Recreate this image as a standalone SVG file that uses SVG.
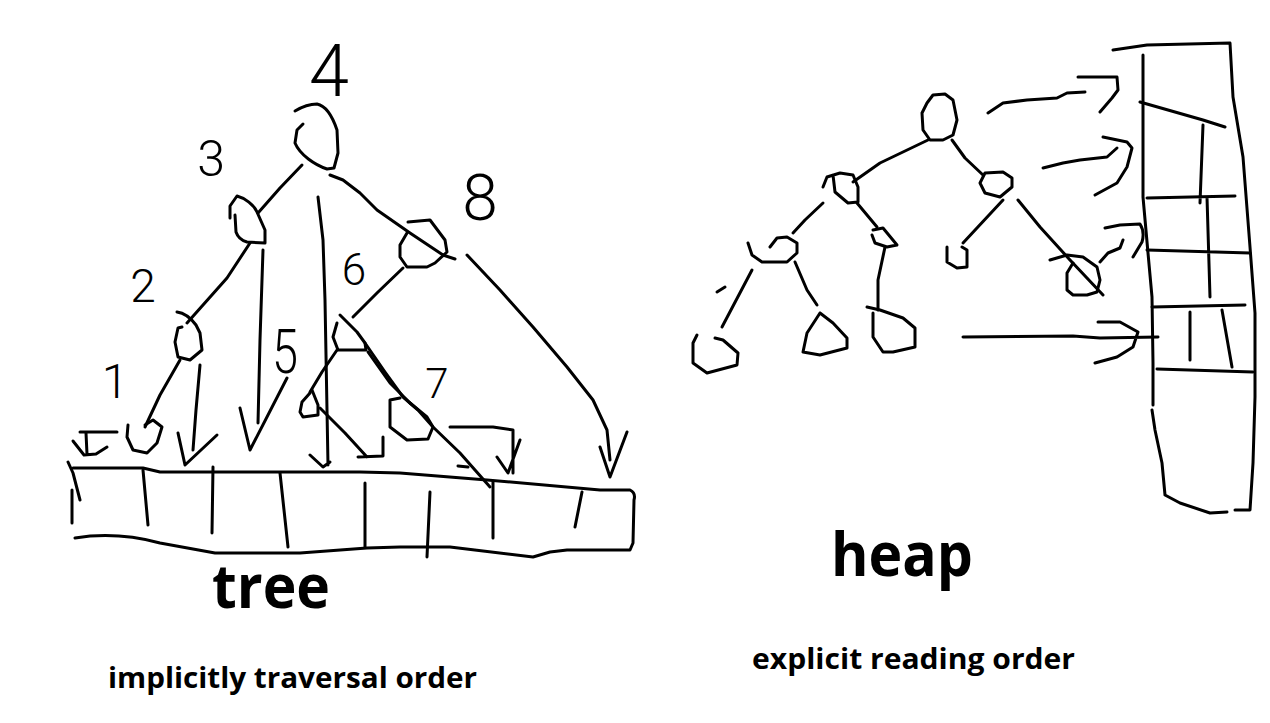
<svg xmlns="http://www.w3.org/2000/svg" width="1270" height="723" viewBox="0 0 1270 723">
<style>
.s{fill:none;stroke:#000;stroke-width:3;stroke-linecap:round;stroke-linejoin:round}
.d{font-family:Roboto,"Liberation Sans",sans-serif;font-weight:300;fill:#000;text-anchor:middle}
.t{font-family:"Open Sans","Noto Sans",sans-serif;font-weight:700;fill:#000}
</style>
<rect width="1270" height="723" fill="#fff"/>
<!-- left tree nodes -->
<g id="t-n4"><path class="s" d="M303,124 L297,130 L295,143 C300,155 315,165 327,169 L334,168 L338,153 L337,130 C333,118 327,106 317,104 C307,104 300,108 295,111"/><text class="d" x="329" y="96" font-size="72">4</text></g>
<g id="t-n3"><path class="s" d="M230,218 L230,206 L237,196 C245,198 254,205 257,212 L265,230 L265,243 L247,242 C240,240 237,235 236,232 L235,215"/><text class="d" x="211" y="176" font-size="50">3</text></g>
<g id="t-n8"><path class="s" d="M408,222 L430,220 L445,240 L447,252 L435,263 L427,267 L407,267 L400,257 L400,245 L407,233"/><text class="d" x="480" y="220" font-size="64">8</text></g>
<g id="t-n2"><path class="s" d="M177,312 C185,313 190,317 196,325 L200,333 L202,350 L190,360 L178,357 L175,342 L178,328 L182,327"/><text class="d" x="143" y="302" font-size="46">2</text></g>
<g id="t-n6"><path class="s" d="M340,315 L357,332 L365,343 L366,350 L338,350 L333,337 L337,323"/><text class="d" x="354" y="285" font-size="44">6</text></g>
<g id="t-n5"><path class="s" d="M312,390 L318,405 L318,415 L303,417 L300,412 L302,402 L310,393"/><text class="d" x="285" y="373" font-size="62" textLength="26" lengthAdjust="spacingAndGlyphs">5</text></g>
<g id="t-n7"><path class="s" d="M400,398 L390,400 L390,427 L407,440 L428,439 L433,427 L427,417 L410,403"/><text class="d" x="437" y="398" font-size="42">7</text></g>
<g id="t-n1"><path class="s" d="M128,425 L127,437 L133,450 L147,453 L157,443 L162,427 L153,420 L145,425"/><text class="d" x="115" y="398" font-size="48">1</text></g>
<!-- left array -->
<g id="t-array">
<path class="s" d="M73,468 L143,468 L160,472 L360,472 L400,473 L487,480 L600,490 L630,490 Q636,493 634,500 L633,543 L630,550 L567,550 L550,552 L533,557 L450,547 L400,547 L367,548 L300,553 L215,553 L160,543 C130,535 100,534 75,538"/>
<path class="s" d="M68,462 L73,473 L80,500 M72,490 L72,523 M143,470 L148,525 M213,467 L212,533 M280,473 L288,547 M365,483 L365,547 M430,492 L427,557 M493,482 L493,538 M582,492 L575,527"/>
</g>
<!-- right heap tree nodes -->
<g id="h-root"><path class="s" d="M927,103 L933,95 L945,94 L953,100 L957,120 L953,135 L943,140 L930,140 L923,130 L922,113 L927,103"/></g>
<g id="h-l"><path class="s" d="M823,187 L827,177 L840,173 L853,175 L858,187 L858,202 L848,203 L835,192 L833,175"/></g>
<g id="h-r"><path class="s" d="M980,183 L985,173 L1003,172 L1012,178 L1012,187 L1000,197 L985,193 L980,183"/></g>
<g id="h-ll"><path class="s" d="M748,243 L752,255 L762,262 L787,262 L797,253 L797,243 L787,237 L777,238 L770,247"/></g>
<g id="h-lr"><path class="s" d="M873,230 L883,228 L897,245 L887,247 L875,243 L872,235"/></g>
<g id="h-rl"><path class="s" d="M962,247 L967,250 L967,267 L957,268 L947,262 L947,247"/></g>
<g id="h-rr"><path class="s" d="M1050,260 L1067,255 L1083,257 L1097,267 L1100,280 L1097,292 L1087,295 L1073,295 L1067,290 L1067,273 L1073,263"/></g>
<g id="h-lll"><path class="s" d="M697,335 L693,343 L693,363 L707,373 L737,365 L738,353 L723,340 L715,338"/></g>
<g id="h-llr"><path class="s" d="M820,313 L807,333 L803,352 L820,355 L847,348 L847,338 L833,323 L820,313"/></g>
<g id="h-lrl"><path class="s" d="M867,307 L880,310 L903,318 L915,328 L915,347 L893,352 L883,352 L873,337 L873,313"/></g>
<!-- heap column -->
<g id="h-array">
<path class="s" d="M1113,50 L1147,45 L1230,43 L1233,97 L1243,157 L1250,247 L1255,313 L1255,397 L1253,463 L1250,510 L1235,510"/>
<path class="s" d="M1143,55 L1143,197 L1148,253 L1152,297 L1153,363 L1153,405 M1152,410 L1155,430 L1162,463 L1165,495 L1180,503 L1210,513 L1227,512"/>
<path class="s" d="M1140,102 L1203,120 L1225,127 M1147,198 L1235,196 M1147,250 L1250,253 M1152,307 L1245,305 M1157,369 L1253,372 M1203,125 L1200,203 M1207,197 L1210,297 M1190,312 L1190,360 M1222,310 L1232,367"/>
</g>
<g id="connectors">
<!-- left tree edges -->
<path class="s" d="M302,165 L280,188 L258,213"/>
<path class="s" d="M330,175 L343,180 L360,193 L377,210 L410,233 L443,255 L455,259"/>
<path class="s" d="M250,243 L227,278 L187,323"/>
<path class="s" d="M403,268 L378,292 L353,317"/>
<path class="s" d="M337,350 L322,372 L310,392"/>
<path class="s" d="M180,360 L160,395 L145,427"/>
<path class="s" d="M365,343 L385,372 L403,397 L418,410 L433,427 L460,453 L490,487"/>
<path class="s" d="M368,352 L390,383 L410,403"/>
<!-- left arrows to array -->
<path class="s" d="M80,432 L117,432 M86,433 L87,454 M73,441 L84,455 L96,454 L107,447"/>
<path class="s" d="M200,365 L196,410 L193,450 M178,433 L185,465 L217,435"/>
<path class="s" d="M263,250 L260,340 L258,423 M240,408 L250,450 L287,378"/>
<path class="s" d="M318,197 L323,240 L325,300 L328,465 M310,455 L323,467 L330,462"/>
<path class="s" d="M320,408 L345,433 L367,457 M358,457 L383,456 L383,437"/>
<path class="s" d="M450,427 L493,427 L513,430 L513,473 M497,457 L508,473 L520,440 M458,466 L468,467"/>
<path class="s" d="M467,255 L500,290 L533,327 L567,367 L593,400 L607,430 L610,460 M600,447 L610,477 L627,432"/>
<!-- heap tree edges -->
<path class="s" d="M928,140 L880,163 L853,182"/>
<path class="s" d="M952,140 L965,158 L983,175"/>
<path class="s" d="M823,203 L805,220 L793,233"/>
<path class="s" d="M857,203 L877,227"/>
<path class="s" d="M1003,200 L963,243"/>
<path class="s" d="M1018,200 L1040,227 L1070,260 L1103,295"/>
<path class="s" d="M752,270 L722,327"/>
<path class="s" d="M795,262 L807,290 L817,305"/>
<path class="s" d="M885,247 L878,280 L878,310"/>
<path class="s" d="M717,292 L725,287"/>
<!-- heap reading arrows -->
<path class="s" d="M988,113 L1003,103 L1027,100 L1057,98 L1067,93 L1085,92 M1078,77 L1117,77 L1118,90 L1112,98 L1100,112"/>
<path class="s" d="M1043,168 L1063,163 L1080,160 L1107,157 L1117,148 M1103,137 L1127,142 L1132,148 L1127,167 L1117,183 L1095,195"/>
<path class="s" d="M1100,262 L1108,253 L1120,248 L1123,240 M1105,228 L1120,225 L1140,224 Q1145,232 1142,242 L1133,257"/>
<path class="s" d="M963,337 L1073,336 L1100,338 L1158,337 M1098,322 L1120,322 L1138,332 L1133,347 L1117,357 L1095,363"/>
</g>
<g id="labels">
<text class="t" x="212" y="608" font-size="60" textLength="118" lengthAdjust="spacingAndGlyphs">tree</text>
<text class="t" x="831" y="576" font-size="60" textLength="142" lengthAdjust="spacingAndGlyphs">heap</text>
<text class="t" x="108" y="688" font-size="28" textLength="369" lengthAdjust="spacingAndGlyphs">implicitly traversal order</text>
<text class="t" x="752" y="669" font-size="28" textLength="323" lengthAdjust="spacingAndGlyphs">explicit reading order</text>
</g>
</svg>
